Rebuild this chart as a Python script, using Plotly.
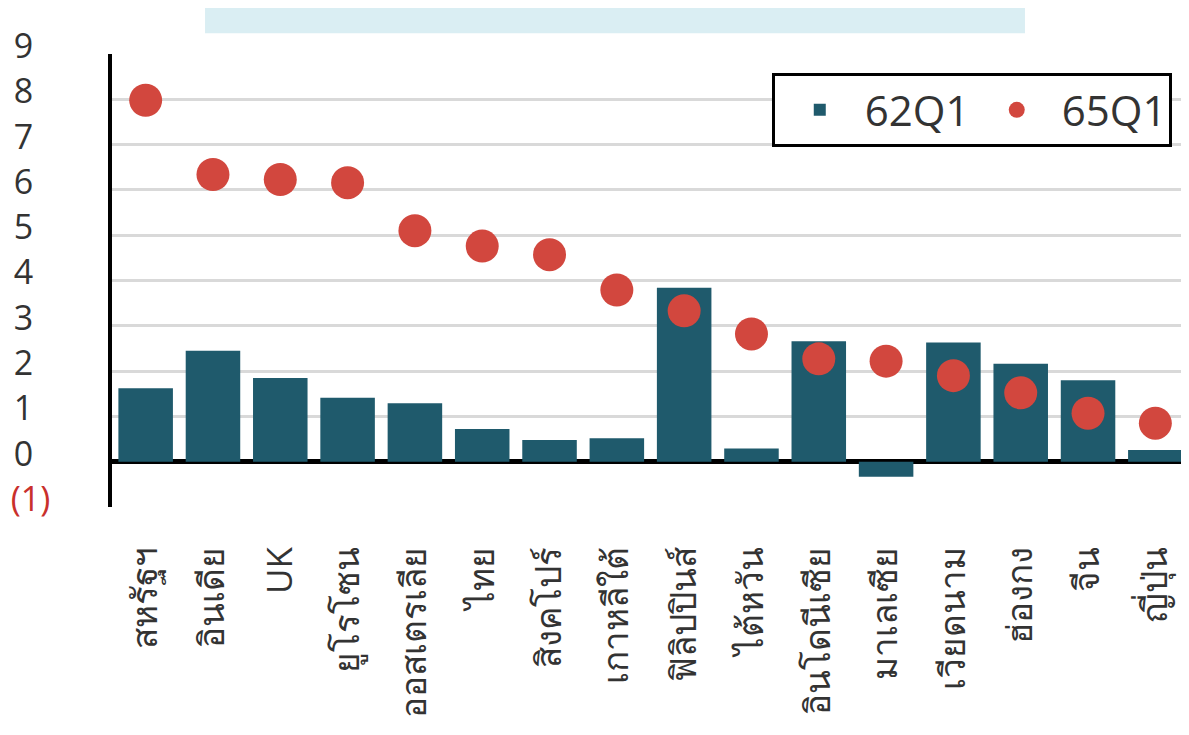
import plotly.graph_objects as go

categories = ["สหรัฐฯ", "อินเดีย", "UK", "ยูโรโซน", "ออสเตรเลีย", "ไทย", "สิงคโปร์", "เกาหลีใต้",
              "ฟิลิปปินส์", "ไต้หวัน", "อินโดนีเซีย", "มาเลเซีย", "เวียดนาม", "ฮ่องกง", "จีน", "ญี่ปุ่น"]
q62 = [1.62, 2.45, 1.85, 1.41, 1.29, 0.72, 0.48, 0.52, 3.84, 0.29, 2.66, -0.33, 2.63, 2.16, 1.80, 0.26]
q65 = [7.98, 6.34, 6.23, 6.16, 5.10, 4.76, 4.57, 3.79, 3.33, 2.82, 2.27, 2.22, 1.90, 1.52, 1.07, 0.85]
ytick_vals = [-1, 0, 1, 2, 3, 4, 5, 6, 7, 8, 9]
ytick_text = ['<span style="color:#c9302c">(1)</span>', "0\u2002", "1\u2002", "2\u2002", "3\u2002",
              "4\u2002", "5\u2002", "6\u2002", "7\u2002", "8\u2002", "9\u2002"]

BAR = "#1f5a6c"
DOT = "#d2473e"
FONT = "Open Sans, Noto Sans, DejaVu Sans, sans-serif"

fig = go.Figure()
fig.add_trace(go.Bar(x=categories, y=q62, name="62Q1", marker=dict(color=BAR, line=dict(width=0))))
fig.add_trace(go.Scatter(x=categories, y=q65, name="65Q1", mode="markers",
                         marker=dict(color=DOT, size=33, line=dict(width=0))))

# The page body adds an 8px margin, so the figure is 8px smaller on each leading edge.
fig.update_layout(
    width=1181, height=727,
    margin=dict(l=104, r=0, t=46, b=228, autoexpand=False),
    paper_bgcolor="white", plot_bgcolor="white",
    bargap=0.19,
    font=dict(family=FONT, color="#333333"),
    showlegend=True,
    legend=dict(orientation="h", x=0.984, xanchor="right", y=0.958, yanchor="top",
                font=dict(size=42, color="#333333"), bgcolor="white",
                bordercolor="black", borderwidth=3, entrywidth=102, itemwidth=80),
    shapes=[dict(type="rect", xref="paper", yref="paper", x0=0.0864, x1=0.8477, y0=1.046, y1=1.125,
                 fillcolor="#daeef3", line=dict(width=0), layer="below")],
)
fig.update_xaxes(type="category", range=[-0.5, 15.5], showgrid=False, showline=False, zeroline=False,
                 tickangle=-90, tickfont=dict(size=35, color="#333333"), ticks="",
                 ticklabelstandoff=32, automargin=False)
fig.update_yaxes(range=[-1, 9], tickmode="array", tickvals=ytick_vals, ticktext=ytick_text,
                 showgrid=True, gridcolor="#d9d9d9", gridwidth=2.5,
                 zeroline=True, zerolinecolor="black", zerolinewidth=5,
                 showline=True, linecolor="black", linewidth=4,
                 ticks="", tickfont=dict(size=34, color="#333333"),
                 ticklabelstandoff=51, ticklabelshift=-8, automargin=False)

fig.write_html("out.html")
